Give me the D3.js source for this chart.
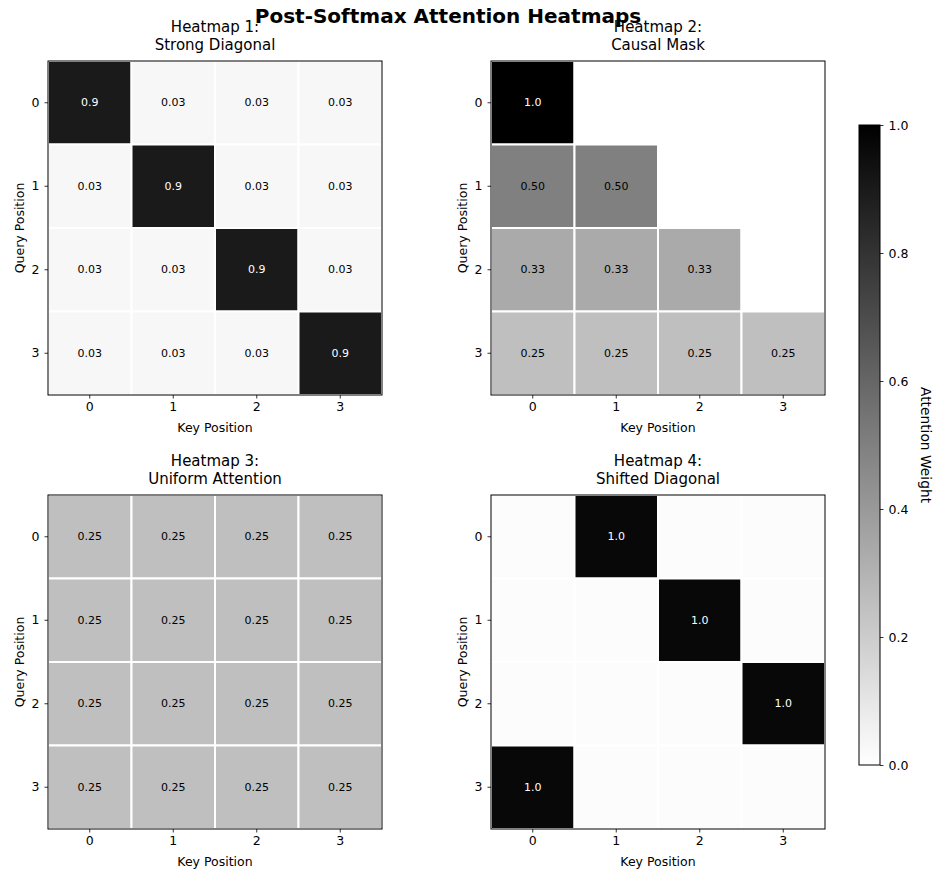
<!DOCTYPE html>
<html>
<head>
<meta charset="utf-8">
<script src="https://cdn.jsdelivr.net/npm/d3@7"></script>
<style>
  html, body { margin: 0; padding: 0; background: #ffffff; }
  svg { display: block; font-family: "DejaVu Sans", sans-serif; }
</style>
</head>
<body>
<svg id="chart" width="937" height="869"></svg>
<script>
// ---------------- DATA ----------------
const mainTitle = "Post-Softmax Attention Heatmaps";
const keyPositions = ["0", "1", "2", "3"];
const queryPositions = ["0", "1", "2", "3"];
const xAxisLabel = "Key Position";
const yAxisLabel = "Query Position";
const colorbarLabel = "Attention Weight";
const colorbarTicks = [0, 0.2, 0.4, 0.6, 0.8, 1.0];

const heatmapTitles = [
  ["Heatmap 1:", "Strong Diagonal"],
  ["Heatmap 2:", "Causal Mask"],
  ["Heatmap 3:", "Uniform Attention"],
  ["Heatmap 4:", "Shifted Diagonal"]
];

const strongDiagonal = [
  [0.9, 0.03, 0.03, 0.03],
  [0.03, 0.9, 0.03, 0.03],
  [0.03, 0.03, 0.9, 0.03],
  [0.03, 0.03, 0.03, 0.9]
];
const strongDiagonalLabels = [
  ["0.9", "0.03", "0.03", "0.03"],
  ["0.03", "0.9", "0.03", "0.03"],
  ["0.03", "0.03", "0.9", "0.03"],
  ["0.03", "0.03", "0.03", "0.9"]
];

const causalMask = [
  [1.0, 0, 0, 0],
  [0.5, 0.5, 0, 0],
  [0.333, 0.333, 0.333, 0],
  [0.25, 0.25, 0.25, 0.25]
];
const causalMaskLabels = [
  ["1.0", "", "", ""],
  ["0.50", "0.50", "", ""],
  ["0.33", "0.33", "0.33", ""],
  ["0.25", "0.25", "0.25", "0.25"]
];

const uniformAttention = [
  [0.25, 0.25, 0.25, 0.25],
  [0.25, 0.25, 0.25, 0.25],
  [0.25, 0.25, 0.25, 0.25],
  [0.25, 0.25, 0.25, 0.25]
];
const uniformAttentionLabels = [
  ["0.25", "0.25", "0.25", "0.25"],
  ["0.25", "0.25", "0.25", "0.25"],
  ["0.25", "0.25", "0.25", "0.25"],
  ["0.25", "0.25", "0.25", "0.25"]
];

const shiftedDiagonal = [
  [0.01, 0.97, 0.01, 0.01],
  [0.01, 0.01, 0.97, 0.01],
  [0.01, 0.01, 0.01, 0.97],
  [0.97, 0.01, 0.01, 0.01]
];
const shiftedDiagonalLabels = [
  ["", "1.0", "", ""],
  ["", "", "1.0", ""],
  ["", "", "", "1.0"],
  ["1.0", "", "", ""]
];

const heatmapValues = [strongDiagonal, causalMask, uniformAttention, shiftedDiagonal];
const heatmapLabels = [strongDiagonalLabels, causalMaskLabels, uniformAttentionLabels, shiftedDiagonalLabels];

// ---------------- LAYOUT ----------------
const svg = d3.select("#chart");
const size = 334;
const origins = [[48, 61], [491, 61], [48, 495], [491, 495]];
const color = d3.scaleLinear().domain([0, 1]).range(["#ffffff", "#000000"]);
const tickFont = 12.5;

svg.append("text")
  .attr("x", 448).attr("y", 23)
  .attr("text-anchor", "middle")
  .attr("font-size", 20).attr("font-weight", "bold")
  .attr("fill", "#000")
  .text(mainTitle);

heatmapValues.forEach((mat, k) => {
  const [ox, oy] = origins[k];
  const g = svg.append("g").attr("transform", `translate(${ox},${oy})`);
  const x = d3.scaleBand().domain(keyPositions).range([0, size]);
  const y = d3.scaleBand().domain(queryPositions).range([0, size]);

  const clipId = "clip" + k;
  g.append("clipPath").attr("id", clipId)
    .append("rect").attr("width", size).attr("height", size);

  const cells = [];
  mat.forEach((row, i) => row.forEach((v, j) => cells.push({ i, j, v, label: heatmapLabels[k][i][j] })));

  const cg = g.append("g").attr("clip-path", `url(#${clipId})`);
  cg.selectAll("rect.cell").data(cells).enter().append("rect")
    .attr("class", "cell")
    .attr("x", d => x(keyPositions[d.j]))
    .attr("y", d => y(queryPositions[d.i]))
    .attr("width", x.bandwidth())
    .attr("height", y.bandwidth())
    .attr("fill", d => color(d.v))
    .attr("stroke", "#ffffff")
    .attr("stroke-width", 2);

  g.selectAll("text.annot").data(cells.filter(d => d.label !== "")).enter().append("text")
    .attr("class", "annot")
    .attr("x", d => x(keyPositions[d.j]) + x.bandwidth() / 2)
    .attr("y", d => y(queryPositions[d.i]) + y.bandwidth() / 2)
    .attr("text-anchor", "middle")
    .attr("dominant-baseline", "central")
    .attr("font-size", 11)
    .attr("fill", d => d.v > 0.6 ? "#ffffff" : "#000000")
    .text(d => d.label);

  // spine
  g.append("rect").attr("x", 0).attr("y", 0).attr("width", size).attr("height", size)
    .attr("fill", "none").attr("stroke", "#000").attr("stroke-width", 1);

  // axes
  const xAxis = g.append("g").attr("transform", `translate(0,${size})`)
    .call(d3.axisBottom(x).tickSizeInner(3.5).tickSizeOuter(0).tickPadding(4));
  const yAxis = g.append("g")
    .call(d3.axisLeft(y).tickSizeInner(3.5).tickSizeOuter(0).tickPadding(5));
  [xAxis, yAxis].forEach(ax => {
    ax.attr("font-size", tickFont).attr("font-family", "DejaVu Sans");
    ax.select(".domain").remove();
    ax.selectAll("text").attr("fill", "#000");
    ax.selectAll("line").attr("stroke", "#000").attr("stroke-width", 0.8);
  });

  g.append("text")
    .attr("x", size / 2).attr("y", size + 37)
    .attr("text-anchor", "middle").attr("font-size", tickFont).attr("fill", "#000")
    .text(xAxisLabel);
  g.append("text")
    .attr("transform", `translate(-29,${size / 2}) rotate(-90)`)
    .attr("text-anchor", "middle").attr("dominant-baseline", "central")
    .attr("font-size", tickFont).attr("fill", "#000")
    .text(yAxisLabel);

  // title
  g.append("text")
    .attr("x", size / 2).attr("y", -29)
    .attr("text-anchor", "middle").attr("font-size", 15).attr("fill", "#000")
    .text(heatmapTitles[k][0]);
  g.append("text")
    .attr("x", size / 2).attr("y", -11)
    .attr("text-anchor", "middle").attr("font-size", 15).attr("fill", "#000")
    .text(heatmapTitles[k][1]);
});

// ---------------- COLORBAR ----------------
const cbX = 859, cbY = 125, cbW = 21, cbH = 640;
const defs = svg.append("defs");
const grad = defs.append("linearGradient").attr("id", "cbgrad")
  .attr("x1", 0).attr("y1", 1).attr("x2", 0).attr("y2", 0);
d3.range(0, 1.0001, 0.1).forEach(t => {
  grad.append("stop").attr("offset", t).attr("stop-color", color(t));
});
svg.append("rect").attr("x", cbX).attr("y", cbY).attr("width", cbW).attr("height", cbH)
  .attr("fill", "url(#cbgrad)").attr("stroke", "#000").attr("stroke-width", 1);
const cbScale = d3.scaleLinear().domain([0, 1]).range([cbY + cbH, cbY]);
const cbAxis = svg.append("g").attr("transform", `translate(${cbX + cbW},0)`)
  .call(d3.axisRight(cbScale).tickValues(colorbarTicks).tickFormat(d3.format(".1f"))
    .tickSizeInner(3.5).tickSizeOuter(0).tickPadding(5));
cbAxis.attr("font-size", tickFont).attr("font-family", "DejaVu Sans");
cbAxis.select(".domain").remove();
cbAxis.selectAll("text").attr("fill", "#000");
cbAxis.selectAll("line").attr("stroke", "#000").attr("stroke-width", 0.8);

svg.append("text")
  .attr("transform", `translate(926,${cbY + cbH / 2}) rotate(90)`)
  .attr("text-anchor", "middle").attr("dominant-baseline", "central")
  .attr("font-size", 13.8).attr("fill", "#000")
  .text(colorbarLabel);
</script>
</body>
</html>
